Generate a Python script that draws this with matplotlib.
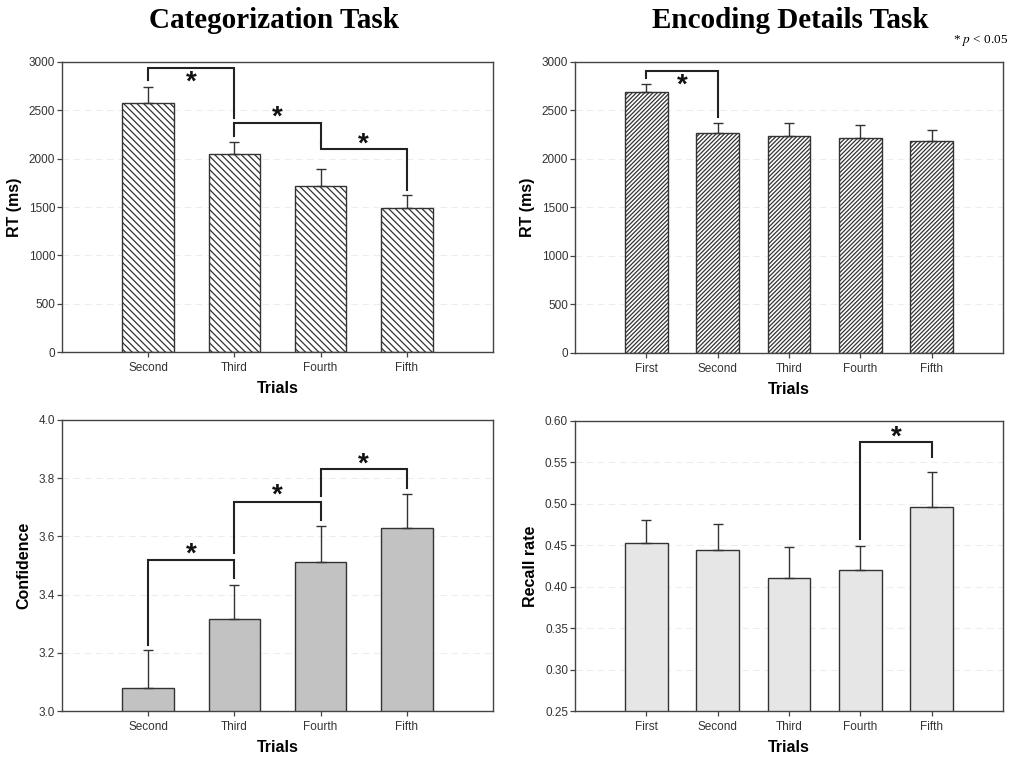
import matplotlib
matplotlib.use("Agg")
import matplotlib.pyplot as plt
import numpy as np

plt.rcParams['font.family'] = ['Liberation Sans', 'DejaVu Sans']
plt.rcParams['mathtext.fontset'] = 'stix'
plt.rcParams['hatch.linewidth'] = 0.9

# ---- data ----
cat_trials = ["Second", "Third", "Fourth", "Fifth"]
cat_rt = [2573, 2045, 1714, 1493]
cat_rt_err = [172, 131, 179, 131]
cat_conf = [3.078, 3.316, 3.512, 3.630]
cat_conf_err = [0.132, 0.117, 0.125, 0.117]

enc_trials = ["First", "Second", "Third", "Fourth", "Fifth"]
enc_rt = [2687, 2270, 2239, 2219, 2185]
enc_rt_err = [89, 100, 131, 128, 110]
enc_recall = [0.453, 0.444, 0.410, 0.420, 0.496]
enc_recall_err = [0.027, 0.032, 0.038, 0.029, 0.042]

# brackets: (bar i, bar j, line y, left leg end, right leg end, star y)
cat_rt_brackets = [(0, 1, 2938, 2814, 2420, 2830),
                   (1, 2, 2372, 2234, 2160, 2472),
                   (2, 3, 2097, 2160, 1676, 2193)]
enc_rt_brackets = [(0, 1, 2911, 2840, 2429, 2800)]
cat_conf_brackets = [(0, 1, 3.519, 3.227, 3.456, 3.553),
                     (1, 2, 3.719, 3.542, 3.656, 3.754),
                     (2, 3, 3.830, 3.739, 3.765, 3.862)]
enc_recall_brackets = [(3, 4, 0.574, 0.457, 0.556, 0.585)]

fig = plt.figure(figsize=(10.11, 7.57), dpi=100)

W, H = 1011, 757
def ax_at(x0, y0, x1, y1):
    return fig.add_axes([x0 / W, 1 - y1 / H, (x1 - x0) / W, (y1 - y0) / H])

edge = '#333333'
tick_color = '#333333'

def panel(ax, labels, vals, errs, ylim, yticks, yfmt, ylabel, fc, hatch, brackets):
    x = np.arange(1, len(labels) + 1)
    ax.set_xlim(0, len(labels) + 1)
    ax.set_ylim(*ylim)
    for t in yticks:
        ax.axhline(t, color='#ededed', lw=0.8, ls=(0, (6, 4)), zorder=0)
    ax.bar(x, vals, width=0.6, color=fc, edgecolor=edge, linewidth=1.0,
           hatch=hatch, zorder=2)
    ax.errorbar(x, vals, yerr=[np.zeros(len(vals)), errs], fmt='none',
                ecolor='#333333', elinewidth=1.0, capsize=3.5, capthick=1.0, zorder=3)
    for (i, j, yl, le, re, sy) in brackets:
        xi, xj = x[i], x[j]
        ax.plot([xi, xi, xj, xj], [le, yl, yl, re], color='#222222', lw=1.5,
                zorder=4, solid_joinstyle='miter')
        ax.annotate('*', ((xi + xj) / 2, sy), xytext=(0, -3), textcoords='offset points',
                    ha='center', va='center', fontsize=20, fontweight='bold',
                    color='#111111')
    ax.set_xticks(x)
    ax.set_xticklabels(labels, fontsize=8.5, color=tick_color)
    ax.set_yticks(yticks)
    ax.set_yticklabels([yfmt.format(t) for t in yticks], fontsize=8.5, color=tick_color)
    ax.tick_params(axis='y', direction='out', length=3.5, width=0.9, color='#444444', pad=1.5)
    ax.tick_params(axis='x', direction='out', length=3.5, width=0.9, color='#444444', pad=4)
    for s in ax.spines.values():
        s.set_color('#444444')
        s.set_linewidth(1.0)
    ax.set_ylabel(ylabel, fontsize=11.5, fontweight='bold', labelpad=5)
    ax.set_xlabel('Trials', fontsize=11.5, fontweight='bold', labelpad=5)

plt.rcParams['hatch.color'] = '#555555'
ax1 = ax_at(62, 62, 493, 352)
panel(ax1, cat_trials, cat_rt, cat_rt_err, (0, 3000), list(range(0, 3001, 500)),
      '{:.0f}', 'RT (ms)', 'white', '\\' * 5, cat_rt_brackets)

ax2 = ax_at(575, 62, 1003, 352.7)
panel(ax2, enc_trials, enc_rt, enc_rt_err, (0, 3000), list(range(0, 3001, 500)),
      '{:.0f}', 'RT (ms)', 'white', '/' * 8, enc_rt_brackets)

ax3 = ax_at(62, 420, 493, 711)
panel(ax3, cat_trials, cat_conf, cat_conf_err, (3.0, 4.0), [3.0, 3.2, 3.4, 3.6, 3.8, 4.0],
      '{:.1f}', 'Confidence', '#c2c2c2', None, cat_conf_brackets)

ax4 = ax_at(575, 420.7, 1003, 711)
panel(ax4, enc_trials, enc_recall, enc_recall_err, (0.25, 0.60),
      [0.25, 0.30, 0.35, 0.40, 0.45, 0.50, 0.55, 0.60],
      '{:.2f}', 'Recall rate', '#e6e6e6', None, enc_recall_brackets)

fig.text(274 / W, 1 - 21 / H, 'Categorization Task', ha='center', va='center',
         fontsize=21, fontweight='bold', family='Liberation Serif')
fig.text(790 / W, 1 - 21 / H, 'Encoding Details Task', ha='center', va='center',
         fontsize=21, fontweight='bold', family='Liberation Serif')
fig.text(1008 / W, 1 - 41 / H, r'* $p$ < 0.05', ha='right', va='center',
         fontsize=9.5, family='Liberation Serif')

fig.savefig('out.png', dpi=100)
